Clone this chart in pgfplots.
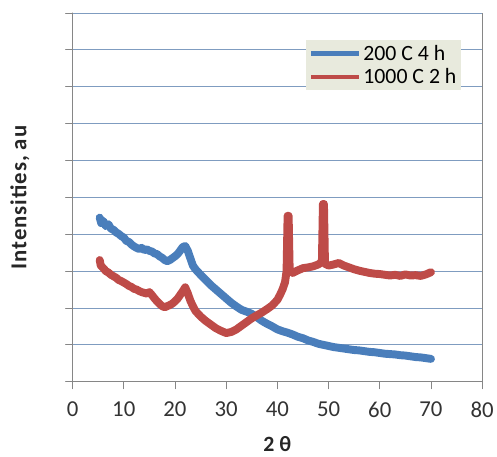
\documentclass[border=0pt]{standalone}
\usepackage{fontspec}
\setmainfont{Carlito}
\newfontfamily\spaced[LetterSpace=4]{Carlito}
\usepackage{pgfplots}
\pgfplotsset{compat=1.18}

\definecolor{serA}{HTML}{4A7EBB}
\definecolor{serB}{HTML}{BE4B48}
\definecolor{gridc}{HTML}{7F9CC0}
\definecolor{axc}{HTML}{868686}
\definecolor{legbg}{HTML}{E8EADD}

\begin{document}
\begin{tikzpicture}
\begin{axis}[
    name=ax,
    width=412bp, height=371bp, scale only axis,
    xmin=0, xmax=80, ymin=0, ymax=10,
    xtick={0,10,...,80}, ytick={0,1,...,10},
    yticklabels={},
    axis x line*=bottom, axis y line*=left,
    axis line style={axc, line width=0.8pt},
    tick style={axc, line width=0.8pt},
    tick align=outside, major tick length=7bp,
    ymajorgrids=true, grid style={gridc, line width=0.8pt},
    ticklabel style={font=\fontsize{23}{26}\selectfont, text=black!80},
    xticklabel style={yshift=-10bp},
    /pgf/number format/assume math mode=true,
    xlabel={\bfseries 2 θ},
    ylabel={\spaced\bfseries Intensities, au},
    xlabel style={font=\fontsize{22}{25}\selectfont, text=black!85, yshift=-12bp},
    ylabel style={font=\fontsize{23}{26}\selectfont, text=black!85, yshift=26bp},
    legend style={at={(0.57,0.927)}, anchor=north west, fill=legbg, draw=none,
        font=\fontsize{22}{25}\selectfont, inner sep=3pt, row sep=3pt,
        cells={anchor=west}},
    legend image code/.code={\draw[#1, line width=4.5pt] (0bp,0bp) -- (48bp,0bp);},
    line cap=round, line join=round,
]
\addplot[serA, line width=8pt] coordinates {
(5.3,4.45) (5.6,4.30) (6,4.36) (6.5,4.22) (7,4.27) (7.5,4.15) (8,4.12)
(8.5,4.05) (9,4.01) (9.5,3.95) (10,3.91) (10.5,3.82) (11,3.79) (11.5,3.72)
(12,3.67) (12.5,3.63) (13,3.60) (13.5,3.63) (14,3.57) (14.5,3.59) (15,3.55)
(15.5,3.53) (16,3.48) (16.5,3.46) (17,3.40) (17.5,3.36) (18,3.30) (18.5,3.27)
(19,3.30) (19.5,3.35) (20,3.40) (20.5,3.46) (21,3.55) (21.5,3.65) (22,3.68)
(22.5,3.55) (23,3.35) (23.5,3.15) (24,3.05) (25,2.90) (26,2.76) (27,2.62)
(28,2.50) (29,2.38) (30,2.26) (31,2.14) (32,2.04) (33,1.95) (34,1.90)
(35,1.84) (36,1.75) (37,1.65) (38,1.57) (39,1.50) (40,1.42) (41,1.37)
(42,1.33) (43,1.28) (44,1.22) (45,1.18) (46,1.12) (47,1.08) (48,1.03)
(49,1.00) (50,0.97) (51,0.94) (52,0.92) (53,0.90) (54,0.88) (55,0.86)
(56,0.85) (57,0.83) (58,0.81) (59,0.80) (60,0.78) (61,0.76) (62,0.75)
(63,0.74) (64,0.72) (65,0.71) (66,0.69) (67,0.67) (68,0.66) (69,0.64) (70,0.62)
};
\addlegendentry{200 C 4 h}
\addplot[serB, line width=8pt] coordinates {
(5.3,3.30) (5.5,3.15) (6,3.08) (6.5,3.00) (7,2.96) (7.5,2.90) (8,2.86)
(8.5,2.82) (9,2.76) (9.5,2.73) (10,2.69) (10.5,2.65) (11,2.60) (11.5,2.57)
(12,2.52) (12.5,2.50) (13,2.46) (13.5,2.43) (14,2.41) (14.5,2.39) (15,2.43)
(15.5,2.35) (16,2.26) (16.5,2.18) (17,2.11) (17.5,2.05) (18,2.02) (18.5,2.05)
(19,2.08) (19.5,2.12) (20,2.18) (20.5,2.25) (21,2.35) (21.5,2.45) (22,2.56)
(22.5,2.40) (23,2.20) (23.5,2.05) (24,1.92) (25,1.77) (26,1.65) (27,1.55)
(28,1.45) (29,1.38) (30,1.32) (31,1.35) (32,1.42) (33,1.52) (34,1.62)
(35,1.72) (36,1.80) (37,1.88) (38,1.97) (39,2.07) (40,2.22) (40.5,2.35)
(41,2.50) (41.5,2.70) (41.8,3.00) (42.0,4.50) (42.2,4.50) (42.4,3.05)
(43,2.95) (44,3.02) (45,3.08) (46,3.10) (47,3.13) (48,3.18) (48.7,3.25)
(48.9,4.82) (49.1,4.82) (49.3,3.20) (50,3.15) (51,3.18) (52,3.22) (53,3.15)
(54,3.10) (55,3.05) (56,3.01) (57,2.98) (58,2.95) (59,2.93) (60,2.92)
(61,2.90) (62,2.88) (63,2.90) (64,2.87) (65,2.91) (66,2.88) (67,2.89)
(68,2.87) (69,2.91) (70,2.97)
};
\addlegendentry{1000 C 2 h}
\end{axis}
\draw[axc, line width=0.8pt] (ax.south east) -- (ax.north east);
\path (ax.south west) ++(-73bp,-75bp);
\path (ax.north east) ++(12bp,13bp);
\end{tikzpicture}
\end{document}
